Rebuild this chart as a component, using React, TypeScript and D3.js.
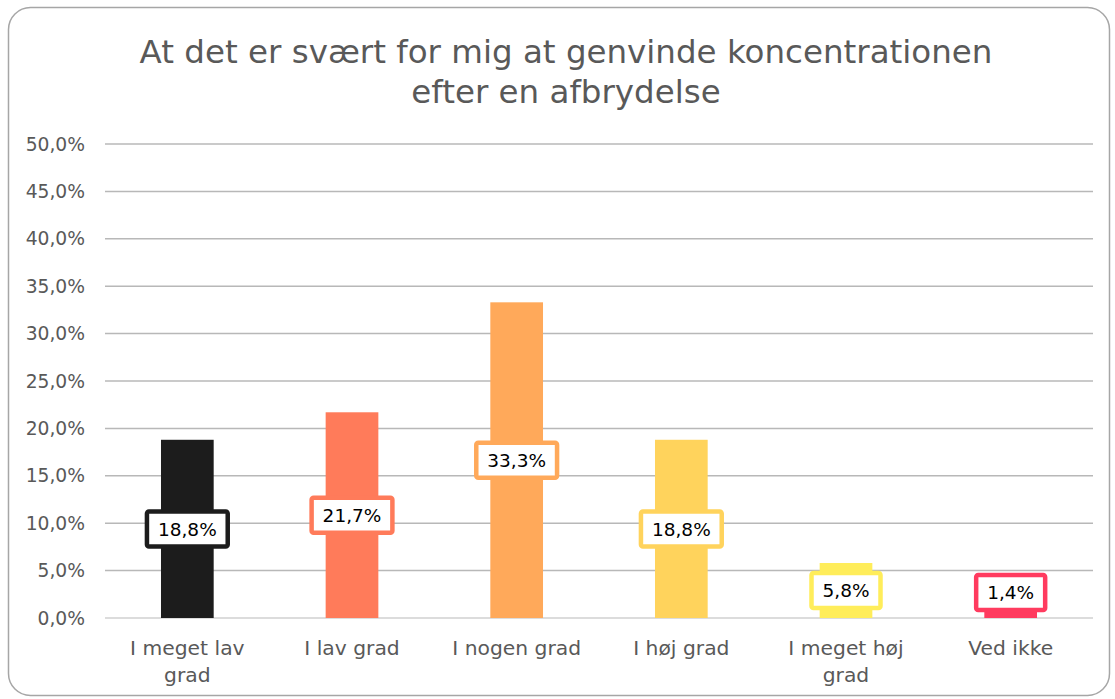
import React, { useEffect, useRef } from "react";
import * as d3 from "d3";

const categories = ["I meget lav grad", "I lav grad", "I nogen grad", "I høj grad", "I meget høj grad", "Ved ikke"];
const categoryLines = [["I meget lav", "grad"], ["I lav grad"], ["I nogen grad"], ["I høj grad"], ["I meget høj", "grad"], ["Ved ikke"]];
const values = [18.8, 21.7, 33.3, 18.8, 5.8, 1.4];
const colors = ["#1c1c1c", "#ff7b5a", "#ffa95a", "#ffd35c", "#ffed5a", "#ff3b5f"];
const yTicks = [0, 5, 10, 15, 20, 25, 30, 35, 40, 45, 50];
const titleLines = ["At det er svært for mig at genvinde koncentrationen", "efter en afbrydelse"];

const W = 1115;
const H = 699;
const FONT = "'DejaVu Sans', sans-serif";

const fmt = (v: number) => v.toFixed(1).replace(".", ",") + "%";

const App = () => {
  const svgRef = useRef<SVGSVGElement | null>(null);

  useEffect(() => {
    const svg = d3.select(svgRef.current);
    svg.selectAll("*").remove();

    // chart frame
    svg.append("rect")
      .attr("x", 8.5).attr("y", 7.5)
      .attr("width", W - 14).attr("height", H - 11)
      .attr("rx", 22).attr("ry", 22)
      .attr("fill", "#fff").attr("stroke", "#a6a6a6").attr("stroke-width", 1.5);

    // title
    svg.append("g").selectAll("text").data(titleLines).enter().append("text")
      .attr("x", 566).attr("y", (_d, i) => 63 + i * 40)
      .attr("text-anchor", "middle")
      .attr("font-family", FONT).attr("font-size", 32.5)
      .attr("fill", "#595959")
      .text((d) => d);

    const left = 105, right = 1093, top = 144, bottom = 618;

    const x = d3.scaleBand().domain(categories).range([left, right]).paddingInner(0).paddingOuter(0);
    const y = d3.scaleLinear().domain([0, 50]).range([bottom, top]);

    // grid
    svg.append("g").selectAll("line").data(yTicks).enter().append("line")
      .attr("x1", left).attr("x2", right)
      .attr("y1", (d) => y(d)).attr("y2", (d) => y(d))
      .attr("stroke", (d) => (d === 0 ? "#d0d0d0" : "#b8b8b8"))
      .attr("stroke-width", 1.5);

    // y labels
    svg.append("g").selectAll("text").data(yTicks).enter().append("text")
      .attr("x", 85).attr("y", (d) => y(d))
      .attr("dy", "0.35em")
      .attr("text-anchor", "end")
      .attr("font-family", FONT).attr("font-size", 18.7)
      .attr("fill", "#595959")
      .text((d) => fmt(d));

    // bars
    const barW = x.bandwidth() * 0.32;
    svg.append("g").selectAll("rect").data(values).enter().append("rect")
      .attr("x", (_d, i) => x(categories[i])! + x.bandwidth() / 2 - barW / 2)
      .attr("y", (d) => y(d))
      .attr("width", barW)
      .attr("height", (d) => bottom - y(d))
      .attr("fill", (_d, i) => colors[i]);

    // x labels
    const xl = svg.append("g");
    categoryLines.forEach((lines, i) => {
      lines.forEach((ln, j) => {
        xl.append("text")
          .attr("x", x(categories[i])! + x.bandwidth() / 2)
          .attr("y", 655 + j * 27)
          .attr("text-anchor", "middle")
          .attr("font-family", FONT).attr("font-size", 20.3)
          .attr("fill", "#595959")
          .text(ln);
      });
    });

    // data labels
    const lg = svg.append("g");
    values.forEach((v, i) => {
      const cx = x(categories[i])! + x.bandwidth() / 2;
      const cy = Math.min(y(v / 2), bottom - 25.5);
      const g = lg.append("g");
      const rect = g.append("rect");
      const t = g.append("text")
        .attr("x", cx).attr("y", cy)
        .attr("dy", "0.36em")
        .attr("text-anchor", "middle")
        .attr("font-family", FONT).attr("font-size", 18.5)
        .attr("fill", "#000")
        .text(fmt(v));
      const tw = (t.node() as SVGTextElement).getComputedTextLength();
      const bw = tw + 22;
      const bh = 35;
      rect.attr("x", cx - bw / 2).attr("y", cy - bh / 2)
        .attr("width", bw).attr("height", bh)
        .attr("rx", 2)
        .attr("fill", "#fff")
        .attr("stroke", colors[i]).attr("stroke-width", 4.5);
    });
  }, []);

  return (
    <svg
      ref={svgRef}
      width={W}
      height={H}
      style={{ position: "absolute", left: 0, top: 0, background: "#fff" }}
    />
  );
};

export default App;
